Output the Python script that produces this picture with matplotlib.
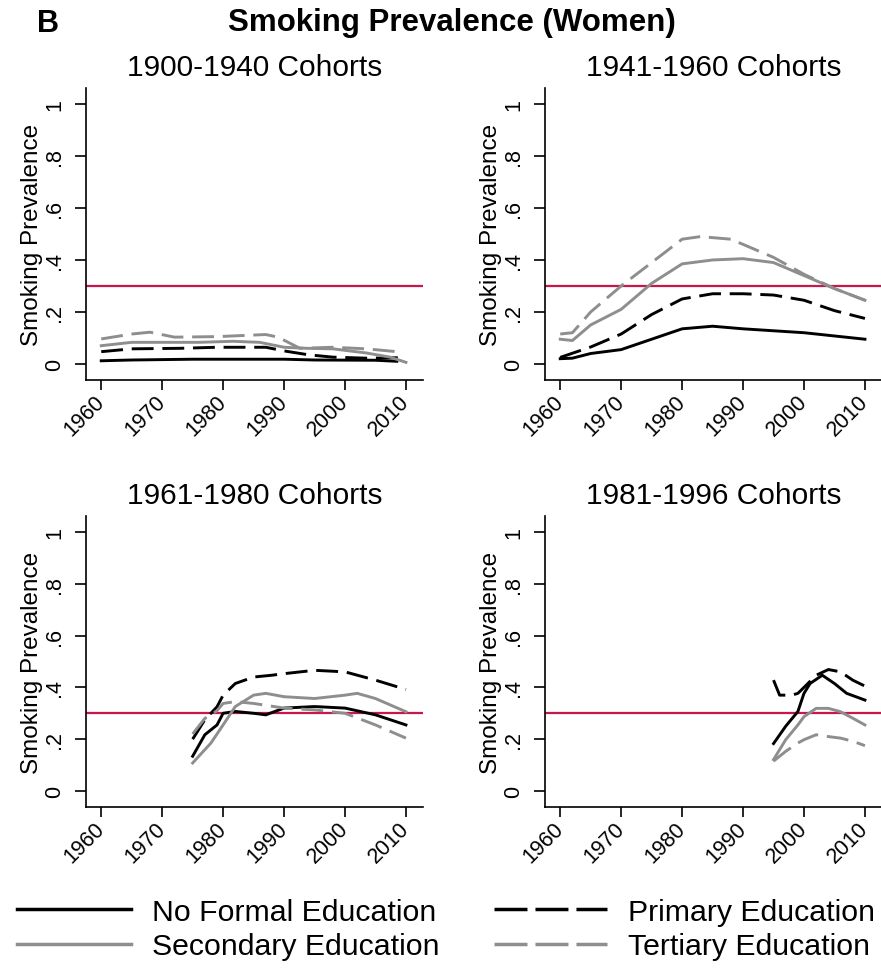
import matplotlib
matplotlib.use("Agg")
import matplotlib.pyplot as plt
from matplotlib.lines import Line2D

plt.rcParams['font.family'] = ['Liberation Sans', 'DejaVu Sans']

titles = ["1900-1940 Cohorts", "1941-1960 Cohorts", "1961-1980 Cohorts", "1981-1996 Cohorts"]
series_names = ["No Formal Education", "Primary Education", "Secondary Education", "Tertiary Education"]

# 1900-1940 cohorts
p1_none_x = [1960, 1965, 1975, 1990, 1995, 2005, 2008.5]
p1_none_y = [0.012, 0.015, 0.018, 0.018, 0.015, 0.014, 0.01]
p1_prim_x = [1960, 1965, 1973, 1979, 1987, 1990, 1994, 1998, 2003.5, 2009.5]
p1_prim_y = [0.047, 0.058, 0.06, 0.064, 0.064, 0.05, 0.035, 0.026, 0.022, 0.024]
p1_sec_x = [1960, 1965, 1976, 1981.6, 1986, 1990, 1993.7, 1998, 2003.5, 2007.4, 2010]
p1_sec_y = [0.07, 0.083, 0.083, 0.087, 0.083, 0.064, 0.06, 0.058, 0.042, 0.026, 0.006]
p1_ter_x = [1960, 1965, 1968, 1972, 1979, 1987, 1989, 1992.6, 1998, 2003.5, 2008.5]
p1_ter_y = [0.096, 0.115, 0.122, 0.103, 0.105, 0.113, 0.103, 0.06, 0.064, 0.058, 0.047]

# 1941-1960 cohorts
p2_none_x = [1960, 1962, 1965, 1970, 1975, 1980, 1985, 1990, 2000, 2010]
p2_none_y = [0.02, 0.022, 0.04, 0.055, 0.095, 0.135, 0.145, 0.135, 0.12, 0.095]
p2_prim_x = [1960, 1965, 1970, 1975, 1980, 1985, 1990, 1995, 2000, 2005, 2010]
p2_prim_y = [0.025, 0.065, 0.115, 0.19, 0.25, 0.27, 0.27, 0.265, 0.245, 0.205, 0.175]
p2_sec_x = [1960, 1962, 1965, 1970, 1975, 1980, 1985, 1990, 1995, 2000, 2005, 2010]
p2_sec_y = [0.095, 0.09, 0.15, 0.21, 0.31, 0.385, 0.40, 0.405, 0.39, 0.34, 0.29, 0.245]
p2_ter_x = [1960, 1962, 1965, 1970, 1975, 1980, 1983, 1988, 1990, 1995, 2000, 2005, 2010]
p2_ter_y = [0.115, 0.12, 0.2, 0.3, 0.39, 0.48, 0.49, 0.48, 0.46, 0.41, 0.345, 0.29, 0.245]

# 1961-1980 cohorts
p3_none_x = [1975, 1977, 1978, 1979, 1980, 1982, 1985, 1987, 1990, 1995, 2000, 2005, 2010]
p3_none_y = [0.134, 0.217, 0.236, 0.255, 0.30, 0.307, 0.30, 0.294, 0.32, 0.326, 0.32, 0.294, 0.255]
p3_prim_x = [1975, 1977, 1979, 1980, 1982, 1985, 1988, 1990, 1995, 2000, 2005, 2010]
p3_prim_y = [0.2, 0.275, 0.325, 0.37, 0.415, 0.44, 0.447, 0.453, 0.466, 0.46, 0.428, 0.392]
p3_sec_x = [1975, 1978, 1980, 1982, 1985, 1987, 1990, 1995, 2000, 2002, 2005, 2010]
p3_sec_y = [0.108, 0.185, 0.255, 0.326, 0.37, 0.377, 0.364, 0.357, 0.37, 0.377, 0.357, 0.306]
p3_ter_x = [1975, 1977, 1979, 1980, 1982, 1985, 1990, 1995, 2000, 2005, 2010]
p3_ter_y = [0.22, 0.28, 0.31, 0.338, 0.345, 0.338, 0.32, 0.313, 0.30, 0.255, 0.204]

# 1981-1996 cohorts
p4_none_x = [1995, 1997, 1999, 2000, 2001, 2003, 2005, 2007, 2010]
p4_none_y = [0.183, 0.25, 0.307, 0.377, 0.415, 0.447, 0.415, 0.377, 0.351]
p4_prim_x = [1995, 1996, 1998, 1999, 2000, 2002, 2004, 2006, 2008, 2010]
p4_prim_y = [0.428, 0.37, 0.37, 0.377, 0.40, 0.447, 0.469, 0.46, 0.428, 0.405]
p4_sec_x = [1995, 1997, 1999, 2000, 2002, 2004, 2006, 2008, 2010]
p4_sec_y = [0.121, 0.198, 0.255, 0.287, 0.319, 0.319, 0.306, 0.281, 0.255]
p4_ter_x = [1995, 1997, 1999, 2000, 2002, 2004, 2006, 2008, 2010]
p4_ter_y = [0.115, 0.153, 0.185, 0.198, 0.217, 0.21, 0.204, 0.192, 0.175]

panels = [
    [(p1_none_x, p1_none_y), (p1_prim_x, p1_prim_y), (p1_sec_x, p1_sec_y), (p1_ter_x, p1_ter_y)],
    [(p2_none_x, p2_none_y), (p2_prim_x, p2_prim_y), (p2_sec_x, p2_sec_y), (p2_ter_x, p2_ter_y)],
    [(p3_none_x, p3_none_y), (p3_prim_x, p3_prim_y), (p3_sec_x, p3_sec_y), (p3_ter_x, p3_ter_y)],
    [(p4_none_x, p4_none_y), (p4_prim_x, p4_prim_y), (p4_sec_x, p4_sec_y), (p4_ter_x, p4_ter_y)],
]

reference_level = 0.3
x_ticks = [1960, 1970, 1980, 1990, 2000, 2010]
y_ticks = [0, 0.2, 0.4, 0.6, 0.8, 1]
y_tick_labels = ["0", ".2", ".4", ".6", ".8", "1"]

gray = '#8e8e8e'
dash = (0, (7.5, 3))
styles = [
    dict(color='black', ls='-'),
    dict(color='black', ls=dash),
    dict(color=gray, ls='-'),
    dict(color=gray, ls=dash),
]

fig = plt.figure(figsize=(8.81, 9.70), dpi=100)

W, H = 881.0, 970.0
boxes = [(86, 89, 423, 381), (545, 89, 882, 381), (86, 517, 423, 808), (545, 517, 882, 808)]

for i, (l, t, r, b) in enumerate(boxes):
    ax = fig.add_axes([l / W, 1 - b / H, (r - l) / W, (b - t) / H])
    ax.axhline(reference_level, color='#c8174a', lw=1.6, zorder=1)
    for (xs, ys), st in zip(panels[i], styles):
        ax.plot(xs, ys, lw=2.1, zorder=2, **st)
    ax.set_xlim(1957.5, 2012.8)
    ax.set_ylim(-0.062, 1.062)
    for s in ['top', 'right']:
        ax.spines[s].set_visible(False)
    ax.spines['left'].set_linewidth(1.2)
    ax.spines['bottom'].set_linewidth(1.2)
    ax.set_xticks(x_ticks)
    ax.set_xticklabels([str(x) for x in x_ticks], rotation=45, ha='right', va='center',
                       rotation_mode='anchor', fontsize=15.5)
    ax.set_yticks(y_ticks)
    ax.set_yticklabels(y_tick_labels, rotation=90, va='center', fontsize=15.5)
    ax.tick_params(axis='x', length=7, width=1.2, pad=6)
    ax.tick_params(axis='y', length=8, width=1.2, pad=7)
    ax.set_ylabel("Smoking Prevalence", fontsize=17.5)
    ax.yaxis.set_label_coords(-0.128, 0.5)
    ax.set_title(titles[i], fontsize=21.5, pad=9)

fig.text(452 / W, 1 - 31 / H, "Smoking Prevalence (Women)", fontsize=22.5, fontweight='bold',
         ha='center', va='baseline')
fig.text(37 / W, 1 - 32 / H, "B", fontsize=22, fontweight='bold', ha='left', va='baseline')

leg_dash = (0, (9.5, 2.3))
handles = [Line2D([], [], lw=2.5, color='black', ls='-'),
           Line2D([], [], lw=2.5, color=gray, ls='-'),
           Line2D([], [], lw=2.5, color='black', ls=leg_dash),
           Line2D([], [], lw=2.5, color=gray, ls=leg_dash)]
labels = [series_names[0], series_names[2], series_names[1], series_names[3]]
fig.legend(handles, labels, loc='center left', bbox_to_anchor=(17 / W, 1 - 930 / H), ncol=2,
           frameon=False, borderpad=0, borderaxespad=0, fontsize=21.8,
           handlelength=3.75, columnspacing=1.8, handletextpad=0.7, labelspacing=0.22)

fig.savefig("out.png", dpi=100)
